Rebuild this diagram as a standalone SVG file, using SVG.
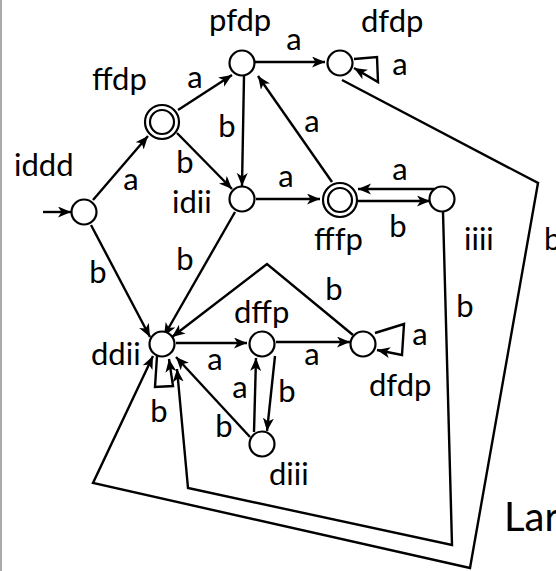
<svg xmlns="http://www.w3.org/2000/svg" width="556" height="571" viewBox="0 0 556 571">
<style>
.n{fill:#fff;stroke:#000;stroke-width:2.2}
.e{fill:none;stroke:#000;stroke-width:2.4;stroke-linejoin:miter}
.t{font-family:Lato,"Open Sans","DejaVu Sans",sans-serif;font-size:31px;fill:#000}
.l{font-family:Lato,"Open Sans","DejaVu Sans",sans-serif;font-size:31px;fill:#000;text-anchor:middle}
</style>
<defs>
<marker id="ah" markerUnits="userSpaceOnUse" markerWidth="14" markerHeight="12" refX="13" refY="5.5" orient="auto">
<path d="M0,0 L13,5.5 L0,11 L3.5,5.5 Z" fill="#000"/>
</marker>
</defs>
<rect x="0" y="0" width="556" height="571" fill="#fff"/>
<line x1="1" y1="0" x2="1" y2="571" stroke="#aaa" stroke-width="2"/>
<g id="connectors">
<path class="e" d="M43,212 L71,212" marker-end="url(#ah)"/>
<path class="e" d="M93,200 L148,136" marker-end="url(#ah)"/>
<path class="e" d="M91,225 L150,337" marker-end="url(#ah)"/>
<path class="e" d="M178,110 L232,75" marker-end="url(#ah)"/>
<path class="e" d="M177,133 L232,189" marker-end="url(#ah)"/>
<path class="e" d="M244,76 L242,186" marker-end="url(#ah)"/>
<path class="e" d="M255,62 L325,62" marker-end="url(#ah)"/>
<path class="e" d="M354,59 L377,57 L378,82 L354,68" marker-end="url(#ah)"/>
<path class="e" d="M256,199 L320,199" marker-end="url(#ah)"/>
<path class="e" d="M235,212 L164,336" marker-end="url(#ah)"/>
<path class="e" d="M332,182 L258,76" marker-end="url(#ah)"/>
<path class="e" d="M434,189 L358,189" marker-end="url(#ah)"/>
<path class="e" d="M358,201 L430,201" marker-end="url(#ah)"/>
<path class="e" d="M443,212 L452,545 L188,488 L177,369" marker-end="url(#ah)"/>
<path class="e" d="M342,80 L538,183 L470,568 L93,483 L153,356" marker-end="url(#ah)"/>
<path class="e" d="M176,343 L247,343" marker-end="url(#ah)"/>
<path class="e" d="M276,342 L350,342" marker-end="url(#ah)"/>
<path class="e" d="M375,333 L404,324 L402,355 L377,350" marker-end="url(#ah)"/>
<path class="e" d="M353,335 L267,264 L172,337" marker-end="url(#ah)"/>
<path class="e" d="M275,356 L267,431" marker-end="url(#ah)"/>
<path class="e" d="M254,432 L256,358" marker-end="url(#ah)"/>
<path class="e" d="M250,437 L176,357" marker-end="url(#ah)"/>
<path class="e" d="M157,356 L155,387 L173,386 L169,359" marker-end="url(#ah)"/>
<text class="l" x="131" y="190">a</text>
<text class="l" x="98" y="283">b</text>
<text class="l" x="195" y="88">a</text>
<text class="l" x="185" y="173">b</text>
<text class="l" x="227" y="137">b</text>
<text class="l" x="294" y="50">a</text>
<text class="l" x="400" y="75">a</text>
<text class="l" x="312" y="132">a</text>
<text class="l" x="286" y="187">a</text>
<text class="l" x="400" y="180">a</text>
<text class="l" x="398" y="237">b</text>
<text class="l" x="465" y="317">b</text>
<text class="t" x="544" y="250">b</text>
<text class="l" x="185" y="270">b</text>
<text class="l" x="334" y="300">b</text>
<text class="l" x="215" y="370">a</text>
<text class="l" x="312" y="365">a</text>
<text class="l" x="420" y="345">a</text>
<text class="l" x="287" y="402">b</text>
<text class="l" x="240" y="398">a</text>
<text class="l" x="224" y="437">b</text>
<text class="l" x="159" y="422">b</text>
</g>
<g id="iddd"><circle class="n" cx="84" cy="212" r="12.5"/><text class="t" x="14" y="176">iddd</text></g>
<g id="ffdp"><circle class="n" cx="162" cy="122" r="17"/><circle class="n" cx="162" cy="122" r="12"/><text class="t" x="92" y="90">ffdp</text></g>
<g id="pfdp"><circle class="n" cx="242" cy="63" r="12.5"/><text class="t" x="209" y="31">pfdp</text></g>
<g id="dfdp1"><circle class="n" cx="340" cy="63" r="12.5"/><text class="t" x="361" y="32">dfdp</text></g>
<g id="idii"><circle class="n" cx="242" cy="199" r="12.5"/><text class="t" x="172" y="213">idii</text></g>
<g id="fffp"><circle class="n" cx="340" cy="200" r="17"/><circle class="n" cx="340" cy="200" r="12"/><text class="t" x="314" y="250">fffp</text></g>
<g id="iiii"><circle class="n" cx="442" cy="199" r="12.5"/><text class="t" x="464" y="250">iiii</text></g>
<g id="ddii"><circle class="n" cx="162" cy="344" r="12.5"/><text class="t" x="91" y="365">ddii</text></g>
<g id="dffp"><circle class="n" cx="262" cy="344" r="12.5"/><text class="t" x="234" y="323">dffp</text></g>
<g id="dfdp2"><circle class="n" cx="363" cy="344" r="12.5"/><text class="t" x="369" y="396">dfdp</text></g>
<g id="diii"><circle class="n" cx="262" cy="444" r="12.5"/><text class="t" x="269" y="485">diii</text></g>
<text class="t" x="504" y="531" style="font-size:40px">Lar</text>
</svg>
